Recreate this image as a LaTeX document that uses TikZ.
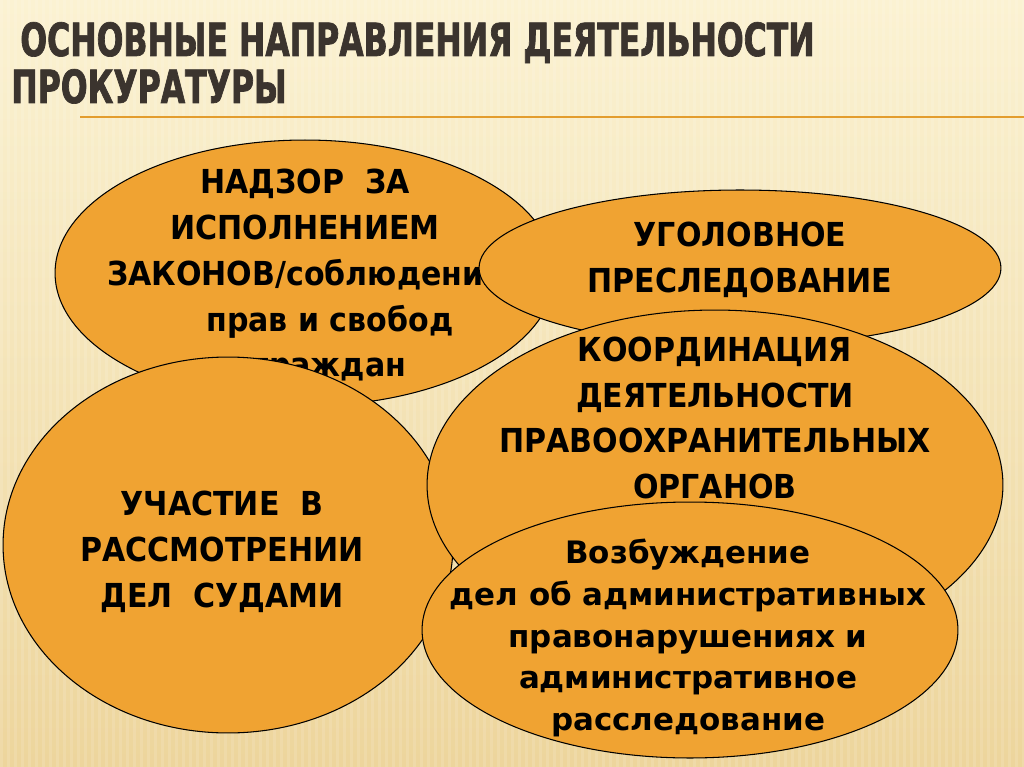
\documentclass[tikz,border=0pt]{standalone}
\usepackage{fontspec}
\setmainfont{DejaVu Sans}
\newfontfamily\titlefont[FakeStretch=0.69,FakeBold=1.5]{DejaVu Sans}
\newfontfamily\bodyfont[FakeStretch=0.91]{DejaVu Sans}
\usepackage{tikz}
\usetikzlibrary{shapes.geometric,positioning}
\definecolor{fondoTop}{HTML}{FBF2D2}
\definecolor{fondoBot}{HTML}{EDD59C}
\definecolor{naranja}{HTML}{F0A332}
\definecolor{tituloGR}{HTML}{3B342E}
\definecolor{lineaOR}{HTML}{E39D2E}
\tikzstyle{blobOR} = [ellipse, draw=black, line width=0.6pt, fill=naranja, inner sep=0pt]
\tikzstyle{textBK} = [align=center, text=black, inner sep=0pt, font=\bodyfont\bfseries\fontsize{18.8}{26}\selectfont]
\tikzstyle{textSM} = [align=center, text=black, inner sep=0pt, font=\bfseries\fontsize{17.6}{23.8}\selectfont]
\tikzstyle{titleGR} = [anchor=base west, inner sep=0pt, text=tituloGR, font=\titlefont\bfseries\fontsize{26}{32}\selectfont]

\begin{document}
\begin{tikzpicture}[x=0.02cm, y=-0.02cm]
  \useasboundingbox (0,0) rectangle (1024,767);

  % fondo
  \shade[top color=fondoTop, bottom color=fondoBot] (0,0) rectangle (1024,767);
  \foreach \x in {0,7,...,1024}
    \fill[white, opacity=0.12] (\x,0) rectangle ++(3,767);

  % titulo
  \node [titleGR] (tit1) at (20,56) {ОСНОВНЫЕ НАПРАВЛЕНИЯ ДЕЯТЕЛЬНОСТИ};
  \node [titleGR] (tit2) at (11,103) {ПРОКУРАТУРЫ};
  \coordinate (lineaL) at (80,117);
  \coordinate (lineaR) at (1024,117);
  \draw [lineaOR, line width=0.06cm] (lineaL) -- (lineaR);

  % nodes
  \node [blobOR, minimum width=10cm, minimum height=5.32cm] (nadzor) at (305,273) {};
  \node [textBK, yshift=-0.07cm] (nadzorTx) at (nadzor.center) {НАДЗОР~~ЗА\\ИСПОЛНЕНИЕМ\\ЗАКОНОВ/соблюдения\\\hspace*{1.5em}прав и свобод\\\hspace*{1.5em}граждан};

  \node [blobOR, minimum width=10.44cm, minimum height=3.12cm] (ugol) at (740,268) {};
  \node [textBK, yshift=0.16cm] (ugolTx) at (ugol.center) {УГОЛОВНОЕ\\ПРЕСЛЕДОВАНИЕ};

  \node [blobOR, minimum width=9cm, minimum height=7.52cm] (uchast) at (228,545) {};
  \node [textBK, xshift=-0.12cm, yshift=-0.14cm] (uchastTx) at (uchast.center) {УЧАСТИЕ~~В\\РАССМОТРЕНИИ\\ДЕЛ~~СУДАМИ};

  \node [blobOR, minimum width=11.52cm, minimum height=7cm] (koord) at (715,485) {};
  \node [textBK, yshift=1.34cm] (koordTx) at (koord.center) {КООРДИНАЦИЯ\\ДЕЯТЕЛЬНОСТИ\\ПРАВООХРАНИТЕЛЬНЫХ\\ОРГАНОВ};

  \node [blobOR, minimum width=10.72cm, minimum height=5.12cm] (vozb) at (690,630) {};
  \node [textSM, xshift=-0.04cm, yshift=-0.16cm] (vozbTx) at (vozb.center) {Возбуждение\\дел об административных\\правонарушениях и\\административное\\расследование};

\end{tikzpicture}
\end{document}
